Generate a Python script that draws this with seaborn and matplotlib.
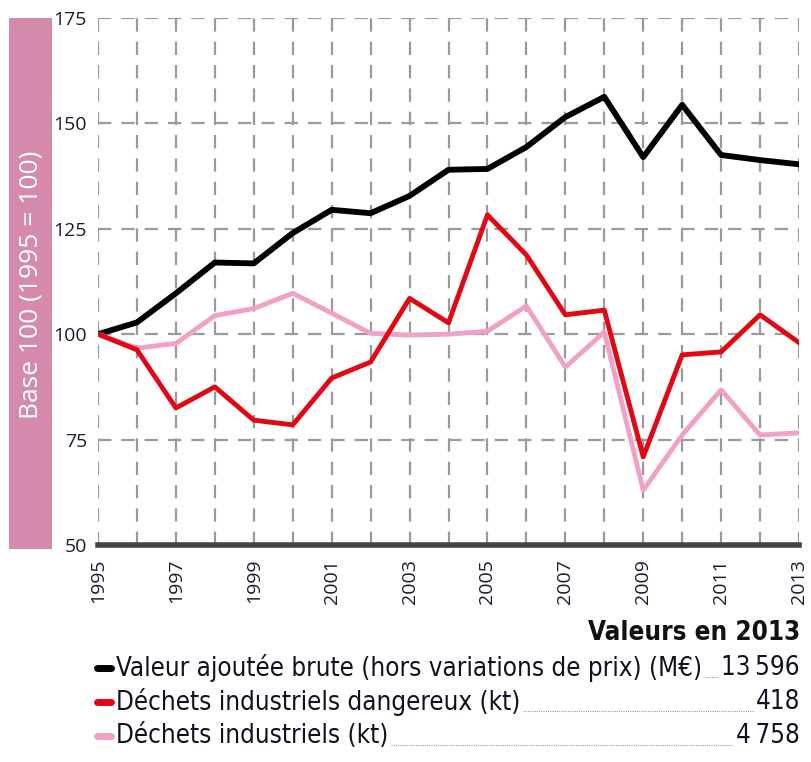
import matplotlib
matplotlib.use("Agg")
import matplotlib.pyplot as plt
import seaborn as sns
import pandas as pd
from matplotlib.lines import Line2D
from matplotlib.patches import Rectangle
from matplotlib import font_manager as fm

years = list(range(1995, 2014))
valeur_ajoutee = [100, 102.8, 109.7, 117, 116.8, 124, 129.5, 128.7, 132.8, 139,
                  139.2, 144.4, 151.5, 156.3, 142, 154.4, 142.5, 141.3, 140.3]
dechets_dangereux = [100, 96.3, 82.5, 87.5, 79.6, 78.5, 89.6, 93.4, 108.5, 102.7,
                     128.3, 118.8, 104.6, 105.7, 70.9, 95.1, 95.8, 104.6, 98]
dechets_industriels = [100, 96.7, 97.8, 104.4, 106.1, 109.7, 105, 100.2, 99.8, 100,
                       100.7, 106.7, 92.2, 100.5, 63, 76.1, 86.8, 76.1, 76.6]

series_names = ["Valeur ajoutée brute (hors variations de prix) (M€)",
                "Déchets industriels dangereux (kt)",
                "Déchets industriels (kt)"]
values_2013 = ["13\u2009596", "418", "4\u2009758"]
colors = ["#000000", "#e30613", "#f2a1c6"]
yticks = [50, 75, 100, 125, 150, 175]
xlabels = [str(y) if (y - 1995) % 2 == 0 else "" for y in years]

sns.set_style("white")
plt.rcParams["font.family"] = ["Open Sans", "DejaVu Sans"]

# pick a condensed font for the legend if available
names = {f.name for f in fm.fontManager.ttflist}
narrow_stretch = "normal"
if "Liberation Sans Narrow" in names:
    lfont = ["Liberation Sans Narrow", "DejaVu Sans"]
elif "DejaVu Sans Condensed" in names:
    lfont = ["DejaVu Sans Condensed", "DejaVu Sans"]
elif any(f.name == "DejaVu Sans" and str(f.stretch) in ("condensed", "semi-condensed")
         for f in fm.fontManager.ttflist):
    lfont = ["DejaVu Sans"]
    narrow_stretch = "condensed"
elif "Roboto Condensed" in names:
    lfont = ["Roboto Condensed", "DejaVu Sans"]
else:
    lfont = ["DejaVu Sans"]
narrow = lfont[0] != "DejaVu Sans" or narrow_stretch == "condensed"
lsize = 18.6 if narrow else 15.5

W, H = 811, 762
fig = plt.figure(figsize=(W / 100, H / 100), dpi=100)
ax = fig.add_axes([98 / W, 1 - 545 / H, (799 - 98) / W, (545 - 18) / H])

df = pd.DataFrame({"year": years, "va": valeur_ajoutee,
                   "dd": dechets_dangereux, "di": dechets_industriels})

# grid
for y in yticks[1:]:
    ax.axhline(y, color="#9a9a9a", lw=1.6, ls=(0, (6, 4.5)), zorder=0)
for x in years:
    ax.axvline(x, color="#9a9a9a", lw=1.6, ls=(0, (6, 4.5)), zorder=0)

sns.lineplot(data=df, x="year", y="va", color=colors[0], lw=4.2, ax=ax, zorder=3)
sns.lineplot(data=df, x="year", y="di", color=colors[2], lw=3.5, ax=ax, zorder=4)
sns.lineplot(data=df, x="year", y="dd", color=colors[1], lw=3.5, ax=ax, zorder=5)

ax.set_xlim(1995, 2013)
ax.set_ylim(50, 175)
ax.set_xlabel("")
ax.set_ylabel("")
for s in ["top", "right", "left"]:
    ax.spines[s].set_visible(False)
ax.spines["bottom"].set_color("#444444")
ax.spines["bottom"].set_linewidth(4)
ax.spines["bottom"].set_zorder(6)
ax.set_yticks(yticks)
ax.set_yticklabels([str(v) for v in yticks], fontsize=14, color="#1c1c30")
ax.tick_params(axis="y", length=0, pad=8)
ax.set_xticks(years)
ax.set_xticklabels(xlabels, rotation=90, fontsize=14, color="#1c1c30")
ax.tick_params(axis="x", length=7, width=1.5, color="#777777", pad=3)

# pink side box
fig.add_artist(Rectangle((9 / W, 1 - 549 / H), 43 / W, (549 - 18) / H,
                         transform=fig.transFigure, color="#d68aab", lw=0))
fig.text(31 / W, 1 - 285 / H, "Base 100 (1995 = 100)", rotation=90,
         color="white", fontsize=19, ha="center", va="center")

# legend
fig.text(800 / W, 1 - 633 / H, "Valeurs en 2013", fontsize=lsize, fontweight="bold",
         family=lfont, fontstretch=narrow_stretch, ha="right", va="center",
         color="#111111")
rows_y = [668, 702, 736]
fig.canvas.draw()
renderer = fig.canvas.get_renderer()
for name, val, col, ry in zip(series_names, values_2013, colors, rows_y):
    yf = 1 - ry / H
    fig.add_artist(Line2D([97 / W, 111 / W], [yf, yf], transform=fig.transFigure,
                          color=col, lw=5, solid_capstyle="round"))
    t = fig.text(116 / W, yf, name, fontsize=lsize, family=lfont,
                 fontstretch=narrow_stretch, ha="left", va="center", color="#111122")
    v = fig.text(800 / W, yf, val, fontsize=lsize, family=lfont,
                 fontstretch=narrow_stretch, ha="right", va="center", color="#111122")
    bb_t = t.get_window_extent(renderer)
    bb_v = v.get_window_extent(renderer)
    x0 = bb_t.x1 + 3
    x1 = bb_v.x0 - 3
    ydot = yf - 9 / H
    if x1 > x0:
        fig.add_artist(Line2D([x0 / W, x1 / W], [ydot, ydot], transform=fig.transFigure,
                              color="#999999", lw=0.8, ls=(0, (1, 1))))

fig.savefig("out.png", dpi=100)
